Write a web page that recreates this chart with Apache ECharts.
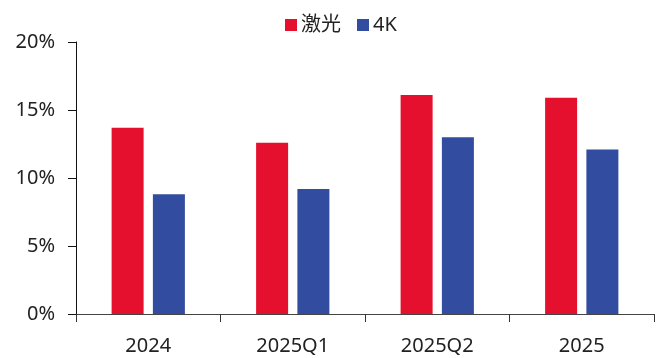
<!DOCTYPE html>
<html>
<head>
<meta charset="utf-8">
<script src="https://cdn.jsdelivr.net/npm/echarts@6/dist/echarts.min.js"></script>
<style>
  html, body { margin: 0; padding: 0; background: #fff; }
  #chart { width: 665px; height: 358px; }
</style>
</head>
<body>
<div id="chart"></div>
<script>
// Categories and series values (percent)
const categories = ['2024', '2025Q1', '2025Q2', '2025'];
const laserValues = [13.7, 12.6, 16.1, 15.9];
const k4Values = [8.8, 9.2, 13.0, 12.1];
const seriesNames = ['激光', '4K'];

const FONT = '"Noto Sans", "Noto Sans CJK SC", sans-serif';

const chart = echarts.init(document.getElementById('chart'), null, { renderer: 'canvas' });

chart.setOption({
  animation: false,
  backgroundColor: '#ffffff',
  grid: { left: 76, right: 11, top: 42, bottom: 44, containLabel: false },
  legend: {
    data: seriesNames,
    left: 280,
    top: 10,
    itemWidth: 12,
    itemHeight: 12,
    itemGap: 16,
    icon: 'rect',
    textStyle: { fontFamily: FONT, fontSize: 20, color: '#222', padding: [0, 0, 0, -1] }
  },
  xAxis: {
    type: 'category',
    data: categories,
    axisLine: { lineStyle: { color: '#444', width: 1 } },
    axisTick: { show: true, length: 8, lineStyle: { color: '#333' } },
    axisLabel: { fontFamily: FONT, fontSize: 20, color: '#222', margin: 22 }
  },
  yAxis: {
    type: 'value',
    min: 0,
    max: 20,
    interval: 5,
    splitLine: { show: false },
    axisLine: { show: true, lineStyle: { color: '#111', width: 1 } },
    axisTick: { show: true, length: 8, lineStyle: { color: '#111' } },
    axisLabel: {
      fontFamily: FONT, fontSize: 20, color: '#222', margin: 21,
      formatter: v => v + '%'
    }
  },
  series: [
    {
      name: seriesNames[0],
      type: 'bar',
      data: laserValues,
      barWidth: 32,
      barGap: '29%',
      itemStyle: { color: '#E5102D' }
    },
    {
      name: seriesNames[1],
      type: 'bar',
      data: k4Values,
      barWidth: 32,
      itemStyle: { color: '#324C9F' }
    }
  ]
});
</script>
</body>
</html>
